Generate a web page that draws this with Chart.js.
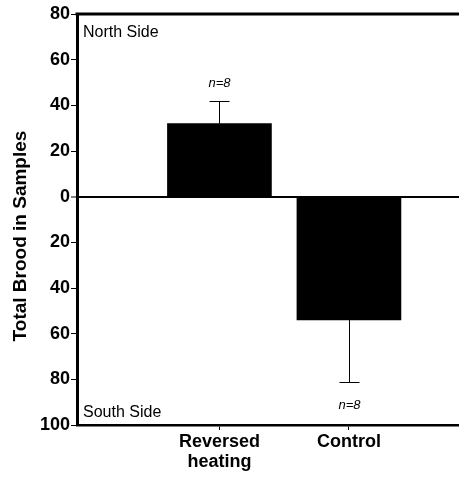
<!DOCTYPE html>
<html>
<head>
<meta charset="utf-8">
<script src="https://cdn.jsdelivr.net/npm/chart.js@4.4.0/dist/chart.umd.min.js"></script>
<style>
  html, body { margin: 0; padding: 0; background: #fff; }
  canvas { display: block; }
</style>
</head>
<body>
<canvas id="chart" width="459" height="477"></canvas>
<script>
// data
const categories = ['Reversed heating', 'Control'];
const tickLabels = [['Reversed', 'heating'], ['Control']];
const xPositions = [1, 2];
const means = [32, -54];
const errors = [10, 27];
const sampleSizes = ['n=8', 'n=8'];
const yTitle = 'Total Brood in Samples';
const sideLabels = ['North Side', 'South Side'];

const FONT = "'Liberation Sans', Arial, Helvetica, sans-serif";

// error bars, n labels, top frame line, side labels and axis title
const extras = {
    id: 'extras',
    afterDatasetsDraw(chart) {
        const ctx = chart.ctx;
        const x = chart.scales.x, y = chart.scales.y;
        const area = chart.chartArea;
        ctx.save();
        ctx.strokeStyle = '#000';
        ctx.fillStyle = '#000';

        // error bars + n=8
        xPositions.forEach((xv, i) => {
            const px = Math.round(x.getPixelForValue(xv)) + 0.5;
            const sign = means[i] >= 0 ? 1 : -1;
            const yBar = y.getPixelForValue(means[i]);
            const yEnd = Math.round(y.getPixelForValue(means[i] + sign * errors[i])) + 0.5;
            ctx.lineWidth = 1;
            ctx.beginPath();
            ctx.moveTo(px, yBar);
            ctx.lineTo(px, yEnd);
            ctx.moveTo(px - 10, yEnd);
            ctx.lineTo(px + 10, yEnd);
            ctx.stroke();

            ctx.font = 'italic 13px ' + FONT;
            ctx.textAlign = 'center';
            ctx.textBaseline = 'middle';
            const ty = sign > 0 ? yEnd - 18 : yEnd + 23;
            ctx.fillText(sampleSizes[i], px, ty);
        });

        // top frame line
        ctx.lineWidth = 3;
        ctx.beginPath();
        ctx.moveTo(area.left - 1.5, area.top);
        ctx.lineTo(area.right, area.top);
        ctx.stroke();

        // side labels
        ctx.font = '16px ' + FONT;
        ctx.textAlign = 'left';
        ctx.textBaseline = 'middle';
        ctx.fillText(sideLabels[0], area.left + 6, area.top + 19);
        ctx.fillText(sideLabels[1], area.left + 6, area.bottom - 12);

        // y axis title
        ctx.font = 'bold 19px ' + FONT;
        ctx.textAlign = 'center';
        ctx.translate(21, 236);
        ctx.rotate(-Math.PI / 2);
        ctx.fillText(yTitle, 0, 0);
        ctx.restore();
    }
};

new Chart(document.getElementById('chart'), {
    type: 'bar',
    data: {
        datasets: [{
            label: 'Total brood',
            data: xPositions.map((xv, i) => ({ x: xv, y: means[i] })),
            backgroundColor: '#000',
            borderWidth: 0,
            barThickness: 104
        }]
    },
    options: {
        responsive: false,
        animation: false,
        events: [],
        layout: { padding: { top: 14, right: 0, bottom: 0, left: 0 } },
        plugins: {
            legend: { display: false },
            tooltip: { enabled: false }
        },
        scales: {
            x: {
                type: 'linear',
                offset: false,
                bounds: 'data',
                min: -0.1,
                max: 2.85,
                afterBuildTicks: s => { s.ticks = xPositions.map(v => ({ value: v })); },
                afterFit: s => { s.height = 52; },
                border: { display: true, color: '#000', width: 2.5 },
                grid: { offset: false, drawOnChartArea: false, color: '#000', tickLength: 5, lineWidth: 1 },
                ticks: {
                    autoSkip: false,
                    maxRotation: 0,
                    padding: 2,
                    color: '#000',
                    font: { family: FONT, size: 18, weight: 'bold', lineHeight: 1.1 },
                    callback: v => tickLabels[xPositions.indexOf(v)]
                }
            },
            y: {
                min: -100,
                max: 80,
                afterFit: s => { s.width = 77; },
                border: { display: true, color: '#000', width: 3 },
                grid: {
                    color: c => c.tick && c.tick.value === 0 ? '#000' : 'rgba(0,0,0,0)',
                    lineWidth: c => c.tick && c.tick.value === 0 ? 2 : 1,
                    tickColor: '#000',
                    tickWidth: 1,
                    tickLength: 6
                },
                ticks: {
                    stepSize: 20,
                    padding: 1,
                    color: '#000',
                    font: { family: FONT, size: 18, weight: 'bold' },
                    callback: v => Math.abs(v)
                }
            }
        }
    },
    plugins: [extras]
});
</script>
</body>
</html>
